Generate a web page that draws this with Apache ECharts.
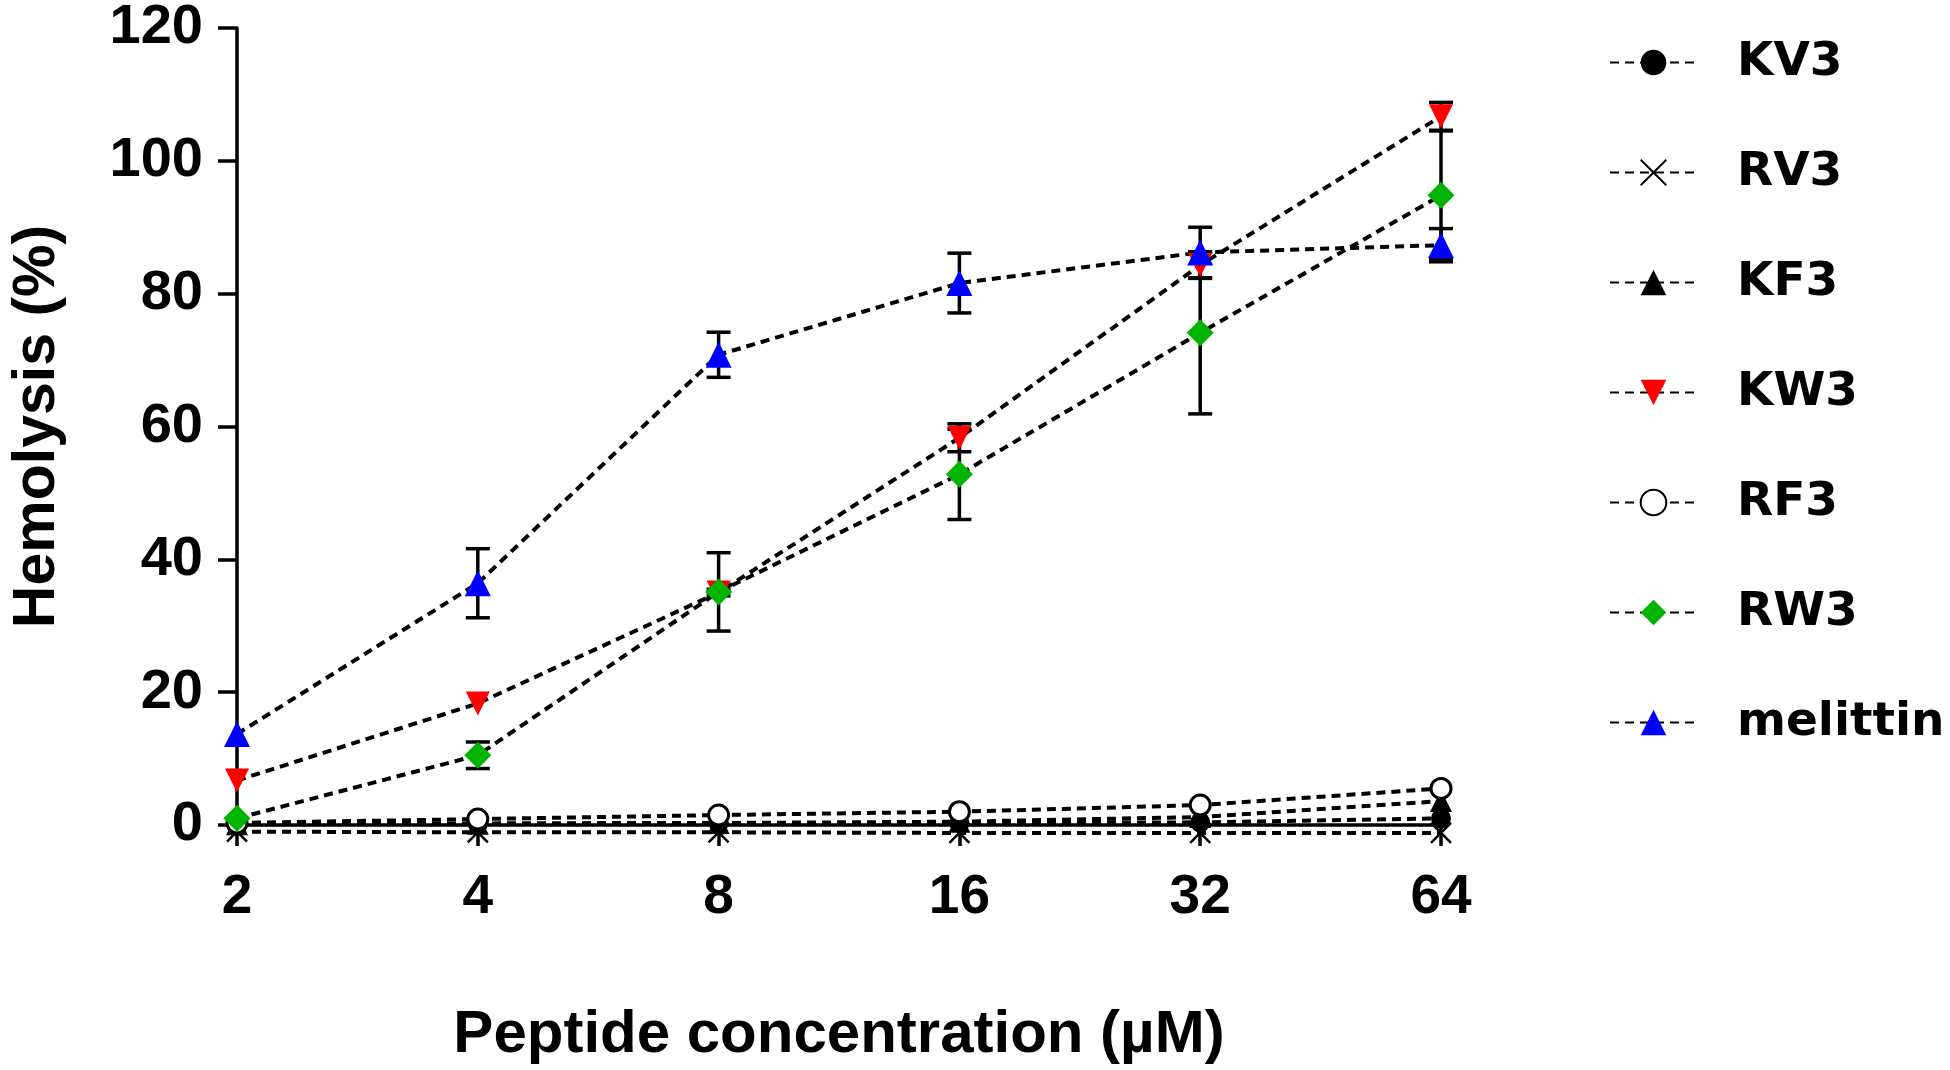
<!DOCTYPE html>
<html>
<head>
<meta charset="utf-8">
<script src="https://cdn.jsdelivr.net/npm/echarts@6/dist/echarts.min.js"></script>
<style>
html,body{margin:0;padding:0;background:#fff;}
#chart{width:1950px;height:1070px;}
</style>
</head>
<body>
<div id="chart"></div>
<script>
// ---- data ----
var concentrations = ['2', '4', '8', '16', '32', '64'];
var yTicks = [0, 20, 40, 60, 80, 100, 120];

var KV3 = [0.2, 0.2, 0.3, 0.3, 0.4, 1.0];
var RV3 = [-1.0, -1.1, -1.1, -1.2, -1.2, -1.2];
var KF3 = [0.1, 0.2, 0.3, 0.5, 1.2, 3.6];
var KW3 = [6.7, 18.3, 35.0, 58.3, 84.3, 106.7];
var KW3_err = [0, 0, 0.5, 2.1, 2.0, 2.1];
var RF3 = [0.3, 0.9, 1.5, 2.0, 3.0, 5.5];
var RW3 = [1.0, 10.5, 35.1, 52.8, 74.1, 94.8];
var RW3_err = [0, 2.0, 5.9, 6.8, 12.2, 9.7];
var melittin = [13.7, 36.4, 70.8, 81.6, 86.2, 87.3];
var melittin_err = [0, 5.2, 3.4, 4.5, 3.8, 2.5];

var seriesNames = ['KV3', 'RV3', 'KF3', 'KW3', 'RF3', 'RW3', 'melittin'];

var chart = echarts.init(document.getElementById('chart'));

var dashStyle = {color: '#000', width: 4, type: [9, 6]};
var crossPath = 'path://M0,0L10,10M10,0L0,10';

function lineSeries(name, data, symbol, itemStyle, size, rotate) {
  return {
    name: name,
    type: 'line',
    data: data,
    symbol: symbol,
    symbolSize: size,
    symbolRotate: rotate || 0,
    clip: false,
    lineStyle: dashStyle,
    itemStyle: itemStyle,
    emphasis: {disabled: true},
    z: 3
  };
}

function errSeries(vals, errs) {
  var d = [];
  for (var i = 0; i < vals.length; i++) {
    if (errs[i] > 0) d.push([i, vals[i], errs[i]]);
  }
  return {
    type: 'custom',
    data: d,
    z: 2,
    silent: true,
    renderItem: function (params, api) {
      var x = api.value(0), v = api.value(1), e = api.value(2);
      var top = api.coord([x, v + e]);
      var bot = api.coord([x, v - e]);
      var hw = 12;
      var st = {stroke: '#000', lineWidth: 3.5};
      return {
        type: 'group',
        children: [
          {type: 'line', shape: {x1: top[0], y1: top[1], x2: bot[0], y2: bot[1]}, style: st},
          {type: 'line', shape: {x1: top[0] - hw, y1: top[1], x2: top[0] + hw, y2: top[1]}, style: st},
          {type: 'line', shape: {x1: bot[0] - hw, y1: bot[1], x2: bot[0] + hw, y2: bot[1]}, style: st}
        ]
      };
    }
  };
}

var option = {
  backgroundColor: '#fff',
  animation: false,
  grid: {left: 230, right: 509, top: 25, bottom: 241},
  legend: {
    data: seriesNames,
    orient: 'vertical',
    left: 1604,
    top: 34,
    itemWidth: 87,
    itemHeight: 32,
    itemGap: 63,
    textStyle: {
      fontFamily: 'DejaVu Sans',
      fontWeight: 'bold',
      fontSize: 47,
      color: '#000',
      padding: [0, 0, 0, 35]
    }
  },
  xAxis: {
    type: 'category',
    data: concentrations,
    boundaryGap: false,
    name: 'Peptide concentration (\u00b5M)',
    nameLocation: 'middle',
    nameGap: 180,
    nameTextStyle: {fontFamily: 'Liberation Sans', fontWeight: 'bold', fontSize: 60, color: '#000'},
    axisLine: {lineStyle: {color: '#000', width: 3.5}},
    axisTick: {inside: false, length: 21, alignWithLabel: true, lineStyle: {color: '#000', width: 3.5}},
    axisLabel: {margin: 45, fontFamily: 'Liberation Sans', fontWeight: 'bold', fontSize: 55, color: '#000'},
    splitLine: {show: false}
  },
  yAxis: {
    type: 'value',
    min: 0,
    max: 120,
    interval: 20,
    name: 'Hemolysis (%)',
    nameLocation: 'middle',
    nameGap: 170,
    nameTextStyle: {fontFamily: 'Liberation Sans', fontWeight: 'bold', fontSize: 59, color: '#000'},
    axisLine: {show: true, lineStyle: {color: '#000', width: 3.5}},
    axisTick: {show: true, inside: false, length: 19, lineStyle: {color: '#000', width: 3.5}},
    axisLabel: {
      margin: 34, fontFamily: 'Liberation Sans', fontWeight: 'bold', fontSize: 56, color: '#000',
      formatter: function (v) { return yTicks.indexOf(v) >= 0 ? String(v) : ''; }
    },
    splitLine: {show: false}
  },
  series: [
    lineSeries('KV3', KV3, 'circle', {color: '#000'}, 20),
    lineSeries('RV3', RV3, crossPath, {color: '#000', borderColor: '#000', borderWidth: 2.5}, 20),
    lineSeries('KF3', KF3, 'triangle', {color: '#000'}, 22),
    lineSeries('KW3', KW3, 'triangle', {color: '#ff0000'}, 24, 180),
    lineSeries('RF3', RF3, 'circle', {color: '#fff', borderColor: '#000', borderWidth: 3}, 20),
    lineSeries('RW3', RW3, 'diamond', {color: '#00b400'}, 27),
    lineSeries('melittin', melittin, 'triangle', {color: '#0000ff'}, 26),
    errSeries(KW3, KW3_err),
    errSeries(RW3, RW3_err),
    errSeries(melittin, melittin_err)
  ]
};
chart.setOption(option);
</script>
</body>
</html>
